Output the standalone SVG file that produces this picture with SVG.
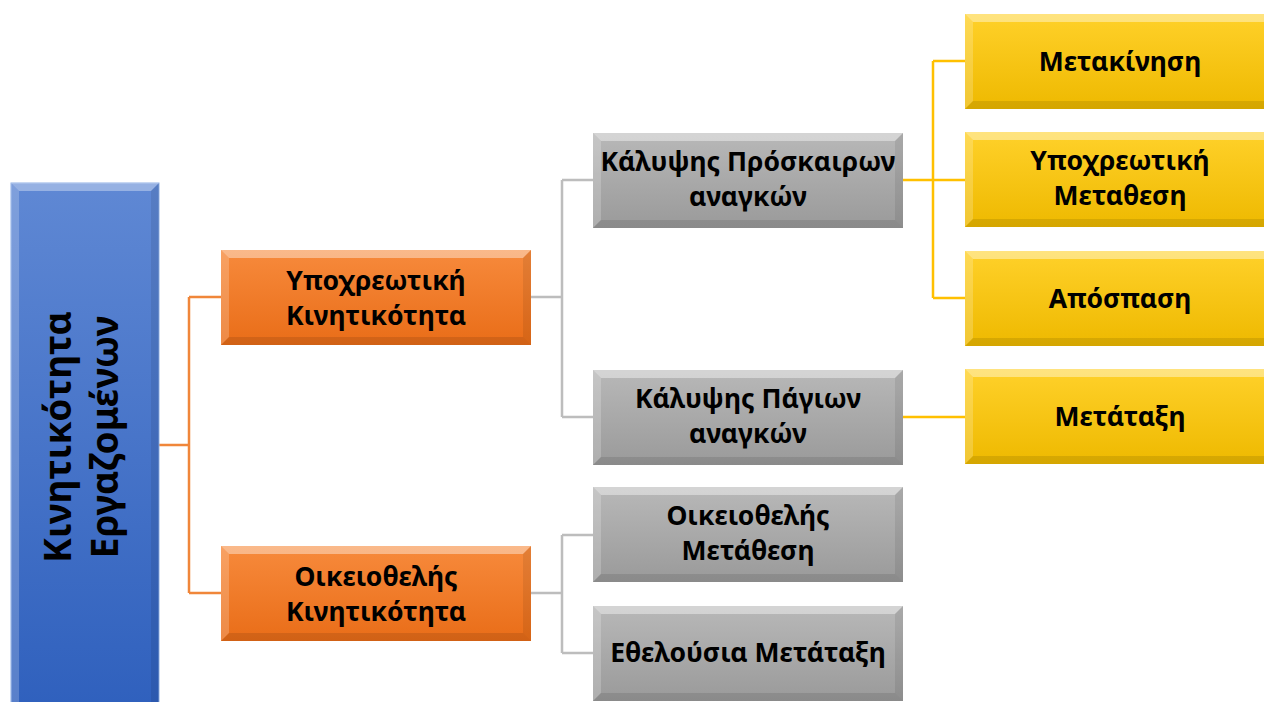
<svg xmlns="http://www.w3.org/2000/svg" xmlns:xlink="http://www.w3.org/1999/xlink" width="1264" height="702" viewBox="0 0 1264 702">
<style>
text{font-family:"Noto Sans","Open Sans","DejaVu Sans",sans-serif;font-weight:bold;fill:#000;text-anchor:middle}
.t{font-size:26.5px}
.root{font-size:37px}
.co{fill:none;stroke:#f0863a;stroke-width:2.5}
.cg{fill:none;stroke:#bdbdbd;stroke-width:2.5}
.cy{fill:none;stroke:#ffc000;stroke-width:2.5}
</style>
<defs>
<linearGradient id="gB" x1="0" y1="0" x2="0" y2="1"><stop offset="0" stop-color="#5f88d4"/><stop offset="1" stop-color="#2f60bd"/></linearGradient>
<linearGradient id="gO" x1="0" y1="0" x2="0" y2="1"><stop offset="0" stop-color="#f78a3c"/><stop offset="1" stop-color="#e96d18"/></linearGradient>
<linearGradient id="gG" x1="0" y1="0" x2="0" y2="1"><stop offset="0" stop-color="#b8b8b8"/><stop offset="1" stop-color="#9a9a9a"/></linearGradient>
<linearGradient id="gY" x1="0" y1="0" x2="0" y2="1"><stop offset="0" stop-color="#ffd12a"/><stop offset="1" stop-color="#eeb900"/></linearGradient>
<symbol id="bev" viewBox="0 0 310 95" preserveAspectRatio="none">
<polygon points="0,0 310,0 302,8 8,8" fill="#fff" opacity="0.4"/>
<polygon points="0,0 8,8 8,87 0,95" fill="#fff" opacity="0.2"/>
<polygon points="310,0 310,95 302,87 302,8" fill="#000" opacity="0.08"/>
<polygon points="0,95 8,87 302,87 310,95" fill="#000" opacity="0.1"/>
</symbol>
</defs>
<rect width="1264" height="702" fill="#fff"/>
<g id="connectors">
<path class="co" d="M159,445 H189 M189,297 V593 M189,297 H221 M189,593 H221"/>
<path class="cg" d="M531,297 H562 M562,180 V417 M562,180 H593 M562,417 H593"/>
<path class="cg" d="M531,593 H562 M562,535 V653 M562,535 H593 M562,653 H593"/>
<path class="cy" d="M903,180 H965 M933,61 V298 M933,61 H965 M933,298 H965"/>
<path class="cy" d="M903,417 H965"/>
</g>
<g id="root">
<rect x="11" y="183" width="148" height="530" fill="url(#gB)" stroke="#8fb0e6" stroke-width="1"/>
<polygon points="11,183 159,183 151,191 19,191" fill="#fff" opacity="0.35"/>
<polygon points="11,183 19,191 19,702 11,702" fill="#fff" opacity="0.2"/>
<polygon points="159,183 159,702 151,702 151,191" fill="#000" opacity="0.08"/>
<text class="root" transform="translate(85,437) rotate(-90)"><tspan x="0" y="-14">Κινητικότητα</tspan><tspan x="0" y="33">Εργαζομένων</tspan></text>
</g>
<g id="n-ypoxr">
<rect x="221" y="250" width="310" height="95" fill="url(#gO)"/>
<use xlink:href="#bev" x="221" y="250" width="310" height="95"/>
<text class="t" x="376" y="290">Υποχρεωτική</text>
<text class="t" x="376" y="325">Κινητικότητα</text>
</g>
<g id="n-oikeio">
<rect x="221" y="546" width="310" height="95" fill="url(#gO)"/>
<use xlink:href="#bev" x="221" y="546" width="310" height="95"/>
<text class="t" x="376" y="586">Οικειοθελής</text>
<text class="t" x="376" y="621">Κινητικότητα</text>
</g>
<g id="n-proskairon">
<rect x="593" y="133" width="310" height="95" fill="url(#gG)"/>
<use xlink:href="#bev" x="593" y="133" width="310" height="95"/>
<text class="t" x="748" y="171">Κάλυψης Πρόσκαιρων</text>
<text class="t" x="748" y="206">αναγκών</text>
</g>
<g id="n-pagion">
<rect x="593" y="370" width="310" height="95" fill="url(#gG)"/>
<use xlink:href="#bev" x="593" y="370" width="310" height="95"/>
<text class="t" x="748" y="408">Κάλυψης Πάγιων</text>
<text class="t" x="748" y="443">αναγκών</text>
</g>
<g id="n-oik-metathesi">
<rect x="593" y="487" width="310" height="95" fill="url(#gG)"/>
<use xlink:href="#bev" x="593" y="487" width="310" height="95"/>
<text class="t" x="748" y="525">Οικειοθελής</text>
<text class="t" x="748" y="560">Μετάθεση</text>
</g>
<g id="n-ethelousia">
<rect x="593" y="606" width="310" height="95" fill="url(#gG)"/>
<use xlink:href="#bev" x="593" y="606" width="310" height="95"/>
<text class="t" x="748" y="662">Εθελούσια Μετάταξη</text>
</g>
<g id="n-metakinisi">
<rect x="965" y="14" width="310" height="95" fill="url(#gY)"/>
<use xlink:href="#bev" x="965" y="14" width="310" height="95"/>
<text class="t" x="1120" y="71">Μετακίνηση</text>
</g>
<g id="n-ypoxr-metathesi">
<rect x="965" y="132" width="310" height="95" fill="url(#gY)"/>
<use xlink:href="#bev" x="965" y="132" width="310" height="95"/>
<text class="t" x="1120" y="170">Υποχρεωτική</text>
<text class="t" x="1120" y="205">Μεταθεση</text>
</g>
<g id="n-apospasi">
<rect x="965" y="251" width="310" height="95" fill="url(#gY)"/>
<use xlink:href="#bev" x="965" y="251" width="310" height="95"/>
<text class="t" x="1120" y="308">Απόσπαση</text>
</g>
<g id="n-metataxi">
<rect x="965" y="369" width="310" height="95" fill="url(#gY)"/>
<use xlink:href="#bev" x="965" y="369" width="310" height="95"/>
<text class="t" x="1120" y="426">Μετάταξη</text>
</g>
</svg>
